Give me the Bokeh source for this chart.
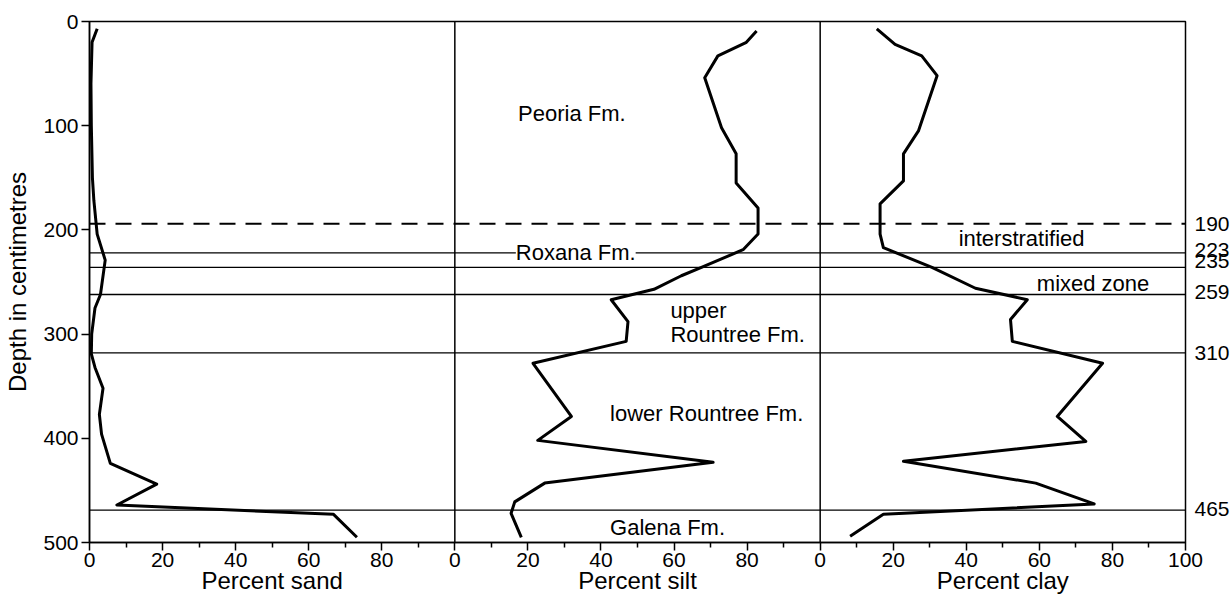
from bokeh.plotting import figure
from bokeh.models import Range1d, LinearAxis, FixedTicker, Span, Label
from bokeh.embed import file_html
from bokeh.resources import INLINE

# ---------------- data ----------------
sand_depth = [7, 20, 60, 100, 150, 172, 204, 229, 262, 275, 300, 319, 332, 352, 377, 396, 424, 444, 464, 473, 495]
sand_pct = [2.1, 0.7, 0.4, 0.5, 0.8, 1.2, 2.1, 4.3, 3.0, 1.5, 0.6, 0.5, 1.5, 3.7, 2.7, 3.3, 5.7, 18.4, 7.5, 66.8, 73.2]

silt_depth = [9, 20, 33, 54, 102, 127, 155, 179, 204, 219, 236, 244, 257, 267, 288, 307, 328, 379, 402, 423, 443, 461, 472, 495]
silt_pct = [82.6, 79.8, 72.0, 68.4, 73.0, 77.0, 77.0, 83.0, 83.0, 78.9, 67.5, 62.0, 54.5, 42.8, 47.4, 46.9, 21.4, 31.9, 22.7, 70.7, 24.6, 16.4, 15.4, 18.2]

clay_depth = [7, 22, 33, 52, 105, 127, 153, 175, 204, 217, 236, 256, 267, 286, 307, 328, 379, 403, 422, 443, 463, 473, 494]
clay_pct = [15.5, 20.5, 27.8, 32.0, 26.9, 22.8, 22.8, 16.4, 16.4, 17.3, 30.6, 42.5, 56.7, 52.1, 52.6, 77.3, 64.9, 72.7, 22.8, 59.0, 75.0, 17.3, 8.2]

dashed_boundary = 194
solid_boundaries = [222, 236, 262, 318, 469]
boundary_labels = ["190", "223", "235", "259", "310", "465"]
boundary_label_depths = [194, 219, 230, 260, 318, 468]

depth_ticks = [0, 100, 200, 300, 400, 500]
pct_ticks = [0, 20, 40, 60, 80]
pct_minor = [10, 30, 50, 70, 90]
panel_titles = ["Percent sand", "Percent silt", "Percent clay"]

formations = [
    ("Peoria Fm.", "silt", 17.3, 88),
    ("upper", "silt", 59.0, 277),
    ("Rountree Fm.", "silt", 59.0, 300),
    ("lower Rountree  Fm.", "silt", 42.5, 376),
    ("Galena Fm.", "silt", 42.5, 486),
    ("interstratified", "clay", 37.9, 208),
    ("mixed zone", "clay", 59.3, 251),
]
roxana = ("Roxana Fm.", "silt", 16.7, 222)

FONT = "Liberation Sans"

# ---------------- figure ----------------
p = figure(width=1232, height=598, output_backend="svg", toolbar_location=None,
           x_range=Range1d(0, 300), y_range=Range1d(500, 0),
           min_border_left=89, min_border_right=46, min_border_top=21, min_border_bottom=56,
           background_fill_color="white", border_fill_color="white")
p.extra_x_ranges = {"silt": Range1d(-100, 200), "clay": Range1d(-200, 100)}
p.xgrid.visible = False
p.ygrid.visible = False
p.outline_line_color = "black"
p.outline_line_width = 1.5

# bottom axis with percent ticks for each panel
ticks = [k * 100 + t for k in range(3) for t in pct_ticks] + [300]
minor = [k * 100 + t for k in range(3) for t in pct_minor]
overrides = {k * 100 + t: str(t) for k in range(3) for t in pct_ticks}
overrides[300] = "100"
xa = p.xaxis[0]
xa.ticker = FixedTicker(ticks=ticks, minor_ticks=minor)
xa.major_label_overrides = overrides
xa.axis_line_width = 1.5
xa.major_tick_line_width = 1.5
xa.minor_tick_line_width = 1.5
xa.major_tick_in = 0
xa.major_tick_out = 8
xa.minor_tick_in = 0
xa.minor_tick_out = 5
xa.major_label_standoff = 2
xa.major_label_text_font = FONT
xa.major_label_text_font_size = "21px"
xa.major_label_text_color = "black"

# second bottom axis carrying the panel titles
xt = LinearAxis(ticker=FixedTicker(ticks=[50, 150, 250]),
                major_label_overrides={50 + 100 * i: t for i, t in enumerate(panel_titles)})
xt.axis_line_color = None
xt.major_tick_line_color = None
xt.minor_tick_line_color = None
xt.major_tick_out = 0
xt.major_tick_in = 0
xt.major_label_standoff = -3
xt.major_label_text_font = FONT
xt.major_label_text_font_size = "24px"
xt.major_label_text_color = "black"
p.add_layout(xt, "below")

# left depth axis
ya = p.yaxis[0]
ya.ticker = FixedTicker(ticks=depth_ticks)
ya.minor_tick_line_color = None
ya.axis_line_width = 1.5
ya.major_tick_line_width = 1.5
ya.major_tick_in = 0
ya.major_tick_out = 8
ya.major_label_standoff = 3
ya.major_label_text_font = FONT
ya.major_label_text_font_size = "21px"
ya.major_label_text_color = "black"
ya.axis_label = "Depth in centimetres"
ya.axis_label_text_font = FONT
ya.axis_label_text_font_size = "24px"
ya.axis_label_text_font_style = "normal"
ya.axis_label_text_color = "black"
ya.axis_label_standoff = 9

# right axis with boundary depth labels
yr = LinearAxis(ticker=FixedTicker(ticks=boundary_label_depths),
                major_label_overrides=dict(zip(boundary_label_depths, boundary_labels)))
yr.axis_line_color = None
yr.major_tick_line_color = None
yr.minor_tick_line_color = None
yr.major_tick_out = 0
yr.major_tick_in = 0
yr.major_label_standoff = 9
yr.major_label_text_font = FONT
yr.major_label_text_font_size = "21px"
yr.major_label_text_color = "black"
p.add_layout(yr, "right")

# curves
p.line(sand_pct, sand_depth, line_color="black", line_width=3, line_join="round")
p.line(silt_pct, silt_depth, line_color="black", line_width=3, line_join="round", x_range_name="silt")
p.line(clay_pct, clay_depth, line_color="black", line_width=3, line_join="round", x_range_name="clay")

# panel separators
for loc in [100, 200]:
    p.add_layout(Span(location=loc, dimension="height", line_color="black", line_width=1.5))

# stratigraphic boundaries
p.add_layout(Span(location=dashed_boundary, dimension="width", line_color="black",
                  line_width=2, line_dash="16 10"))
for d in solid_boundaries:
    p.add_layout(Span(location=d, dimension="width", line_color="black", line_width=1.3))

# formation labels
for text, rng, x, y in formations:
    p.add_layout(Label(x=x, y=y, text=text, x_range_name=rng, text_font=FONT,
                       text_font_size="22px", text_color="black", text_baseline="middle"))
t, rng, x, y = roxana
p.add_layout(Label(x=x, y=y, text=t, x_range_name=rng, text_font=FONT,
                   text_font_size="22px", text_color="black", text_baseline="middle",
                   background_fill_color="white"))

open("out.html", "w").write(file_html(p, INLINE))
